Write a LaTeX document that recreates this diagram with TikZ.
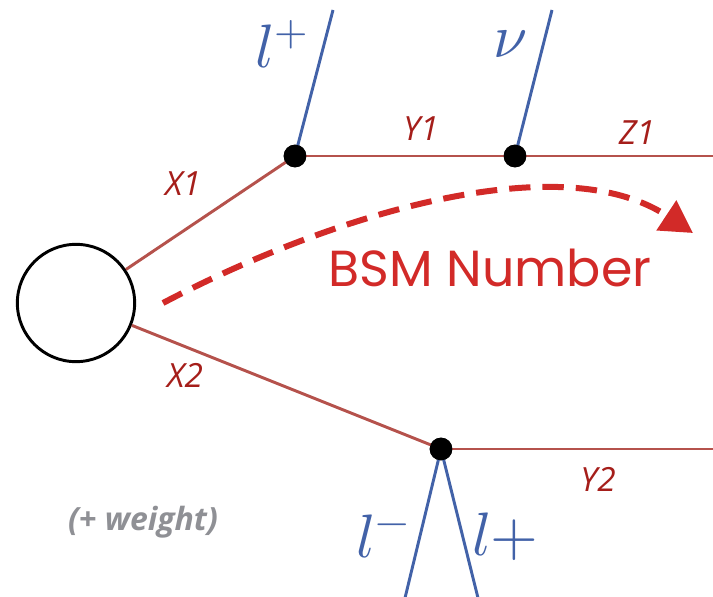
\documentclass[tikz,border=0pt]{standalone}
\usepackage{fontspec}
\usepackage{unicode-math}
\newfontfamily\labfont{Open Sans}
\newfontfamily\bsmfont{Poppins}
\usetikzlibrary{arrows.meta}
\definecolor{linered}{HTML}{B5524C}
\definecolor{labred}{HTML}{A51E1A}
\definecolor{lblue}{HTML}{4262A8}
\definecolor{bsmred}{HTML}{D22A28}
\definecolor{wgray}{HTML}{8F9095}
\tikzset{
  prop/.style={draw=linered, line width=2.2pt},
  lep/.style={draw=lblue, line width=2.2pt},
  vtx/.style={circle, fill=black, inner sep=0pt, minimum size=17pt},
  plab/.style={text=labred, font=\labfont\itshape\fontsize{25}{30}\selectfont},
  mlab/.style={text=lblue, font=\fontsize{46}{52}\selectfont},
}
\begin{document}
\begin{tikzpicture}[x=0.75pt,y=-0.75pt]
\useasboundingbox (0,0) rectangle (713,596);
\node[draw=black, line width=2.2pt, circle, minimum size=88pt, inner sep=0pt] (blob) at (76,303) {};
\node[vtx] (v1) at (295,156) {};
\node[vtx] (v3) at (515,156) {};
\node[vtx] (v2) at (441,449) {};
\coordinate (z1end) at (713,156);
\coordinate (y2end) at (713,449);
\coordinate (lpTop) at (333,10);
\coordinate (nuTop) at (552,10);
\coordinate (lmBot) at (405,598);
\coordinate (lp2Bot) at (478,598);
\draw[prop] (blob) -- (v1.center);
\draw[prop] (blob) -- (v2.center);
\draw[prop] (v1.center) -- (v3.center) -- (z1end);
\draw[prop] (v2.center) -- (y2end);
\draw[lep] (v1.center) -- (lpTop);
\draw[lep] (v3.center) -- (nuTop);
\draw[lep] (v2.center) -- (lmBot);
\draw[lep] (v2.center) -- (lp2Bot);
\node[vtx] at (v1) {};
\node[vtx] at (v3) {};
\node[vtx] at (v2) {};
\node[plab] (lx1) at (183,184) {X1};
\node[plab] (ly1) at (421,129) {Y1};
\node[plab] (lz1) at (637,133) {Z1};
\node[plab] (lx2) at (185,375) {X2};
\node[plab] (ly2) at (598,479) {Y2};
\node[mlab] (llp) at (282,44) {$l^{+}$};
\node[mlab] (lnu) at (510,44) {$\nu$};
\node[mlab] (llm) at (383,537) {$l^{-}$};
\node[mlab] (llp2) at (505,537) {$l{+}$};
\node[text=wgray, font=\labfont\bfseries\itshape\fontsize{24}{28}\selectfont] (wt) at (143,522) {(+ weight)};
\node[text=bsmred, font=\bsmfont\fontsize{38}{44}\selectfont] (bsm) at (490,268) {BSM Number};
\coordinate (cs) at (163,303);
\coordinate (ce) at (693,233);
\draw[draw=bsmred, line width=4.5pt, dash pattern=on 16pt off 9pt, -{Triangle[length=24pt,width=26pt]}] (cs) .. controls (330,215) and (560,145) .. (ce);
\end{tikzpicture}
\end{document}
